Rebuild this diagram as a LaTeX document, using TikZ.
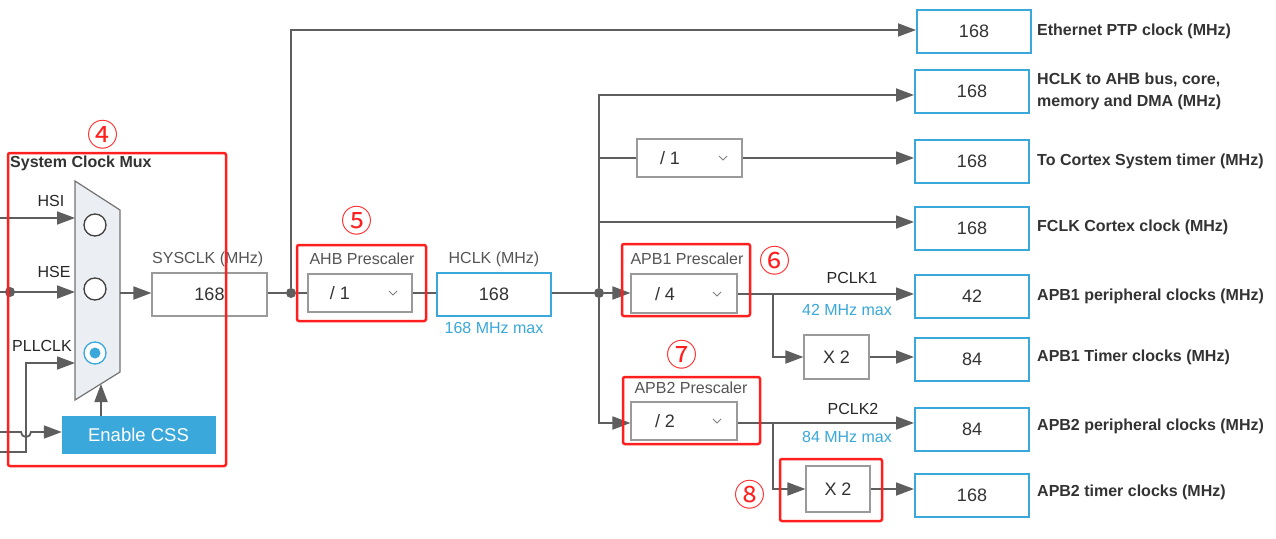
\documentclass[tikz,border=0pt]{standalone}
\usepackage{fontspec}
\setmainfont{Liberation Sans}
\newfontfamily\cjk{Noto Sans CJK SC}
\usetikzlibrary{arrows.meta}
\definecolor{ln}{HTML}{5E5E5E}
\definecolor{gb}{HTML}{9A9A9A}
\definecolor{bl}{HTML}{3AA8DA}
\definecolor{rd}{HTML}{FF1F1F}
\definecolor{tx}{HTML}{333333}
\definecolor{lt}{HTML}{555555}
\definecolor{muxf}{HTML}{EBEEF2}
\tikzset{
 wire/.style={draw=ln, line width=1.8pt},
 arr/.style={wire, -{Triangle[length=18pt,width=13pt]}},
 gbox/.style={draw=gb, line width=1.1pt, fill=white, inner sep=0pt, font=\fontsize{18}{21}\selectfont, text=tx},
 bbox/.style={draw=bl, line width=2pt, fill=white, inner sep=0pt, minimum width=114pt, minimum height=43pt, font=\fontsize{18}{21}\selectfont, text=tx},
 redbox/.style={draw=rd, line width=2.5pt, rounded corners=2pt},
 lbl/.style={font=\fontsize{16}{19}\selectfont, text=lt, inner sep=0pt},
 dlbl/.style={font=\fontsize{16}{19}\selectfont, text=black!85, inner sep=0pt},
 blbl/.style={font=\bfseries\fontsize{16}{19}\selectfont, text=tx, anchor=west, inner sep=0pt},
 bluetxt/.style={font=\fontsize{16}{19}\selectfont, text=bl, inner sep=0pt},
 valtxt/.style={font=\fontsize{18}{21}\selectfont, text=tx, inner sep=0pt},
 circnum/.style={font=\cjk\fontsize{31}{33}\selectfont, text=rd, inner sep=0pt},
 jdot/.style={circle, fill=ln, inner sep=0pt, minimum size=10pt},
 chev/.style={draw=gray, line width=0.9pt},
 radio/.style={circle, draw=black!75, line width=1.3pt, fill=white, minimum size=22pt, inner sep=0pt},
}
\begin{document}
\begin{tikzpicture}[x=1pt,y=-1pt]
\useasboundingbox (0,0) rectangle (1276,538);
\fill[white] (0,0) rectangle (1276,538);

% ---------- mux ----------
\draw[draw=black!55, line width=1.2pt, fill=muxf] (75,181) -- (120,210) -- (120,372) -- (75,400) -- cycle;
\coordinate (mhsi) at (75,218);
\coordinate (mhse) at (75,292);
\coordinate (mpll) at (75,363);
\coordinate (mout) at (120,293);
\coordinate (mbot) at (101,384);
\node[radio] (r1) at (95,225) {};
\node[radio] (r2) at (95,289) {};
\node[radio, draw=bl] (r3) at (95,353) {};
\node[circle, fill=bl, minimum size=11pt, inner sep=0pt] (r3d) at (95,353) {};

\node[blbl] (muxt) at (10,163) {System Clock Mux};
\node[dlbl] (lhsi) at (51,201) {HSI};
\node[dlbl] (lhse) at (54,272) {HSE};
\node[dlbl] (lpll) at (42,346) {PLLCLK};

\coordinate (inhsi) at (0,218);
\coordinate (inhse) at (0,292);
\coordinate (inpll) at (0,452);
\coordinate (incss) at (0,432);
\coordinate (pllc) at (26,452);
\node[jdot] (jl) at (10,292) {};

\node[draw=bl, fill=bl, minimum width=153pt, minimum height=37pt, inner sep=0pt, text=white, font=\fontsize{18.5}{21}\selectfont] (css) at (138.5,434.5) {Enable CSS};

\draw[arr] (inhsi) -- (mhsi);
\draw[arr] (inhse) -- (mhse);
\draw[arr] (inpll) -- (pllc) -- (pllc |- mpll) -- (mpll);
\draw[arr] (incss) -- (21,432) arc[start angle=180, end angle=0, radius=5] -- (css.west |- incss);
\draw[arr] (css.north -| mbot) -- (mbot);

% ---------- SYSCLK ----------
\node[gbox, minimum width=115pt, minimum height=43pt] (sys) at (209.5,294.5) {168};
\node[lbl, anchor=west] (syst) at (152,259) {SYSCLK (MHz)};
\draw[arr] (mout) -- (sys.west |- mout);

% ---------- AHB ----------
\node[gbox, minimum width=104pt, minimum height=38pt] (ahbdd) at (360,293) {};
\node[valtxt] (ahbv) at (340,293) {/ 1};
\draw[chev] (389,291) -- (393,295) -- (397,291);
\node[lbl] (ahbt) at (362,259) {AHB Prescaler};
\node[jdot] (j1) at (291,293) {};
\draw[wire] (sys.east |- j1) -- (j1) -- (ahbdd.west |- j1);

\node[bbox] (hclk) at (494,294.5) {168};
\node[lbl] (hclkt) at (494,259) {HCLK (MHz)};
\node[bluetxt] (hclkm) at (494,328) {168 MHz max};
\draw[wire] (ahbdd.east |- j1) -- (hclk.west |- j1);

% ---------- right column boxes ----------
\node[bbox] (b1) at (974,31.5) {168};
\node[bbox] (b2) at (972,91.5) {168};
\node[bbox] (b3) at (972,161.5) {168};
\node[bbox] (b4) at (972,228) {168};
\node[bbox] (b5) at (972,296) {42};
\node[bbox] (b6) at (972,359) {84};
\node[bbox] (b7) at (972,429) {84};
\node[bbox] (b8) at (972,495) {168};

\node[blbl] (t1) at (1037,31) {Ethernet PTP clock (MHz)};
\node[blbl] (t2a) at (1037,80) {HCLK to AHB bus, core,};
\node[blbl] (t2b) at (1037,102) {memory and DMA (MHz)};
\node[blbl] (t3) at (1037,161) {To Cortex System timer (MHz)};
\node[blbl] (t4) at (1037,227) {FCLK Cortex clock (MHz)};
\node[blbl] (t5) at (1037,296) {APB1 peripheral clocks (MHz)};
\node[blbl] (t6) at (1037,357) {APB1 Timer clocks (MHz)};
\node[blbl] (t7) at (1037,426) {APB2 peripheral clocks (MHz)};
\node[blbl] (t8) at (1037,492) {APB2 timer clocks (MHz)};

% Ethernet
\coordinate (e1) at (291,30);
\draw[arr] (j1) -- (e1) -- (b1.west |- e1);

% HCLK distribution
\node[jdot] (j2) at (599,293) {};
\coordinate (v2top) at (599,95);
\coordinate (v2bot) at (599,423);
\draw[wire] (hclk.east |- j2) -- (j2);
\draw[arr] (j2) -- (v2top) -- (b2.west |- v2top);

\node[gbox, minimum width=105pt, minimum height=38pt] (div1) at (689.5,158) {};
\node[valtxt] (div1v) at (670,158) {/ 1};
\draw[chev] (719,156) -- (723,160) -- (727,156);
\coordinate (c3) at (599,158);
\draw[wire] (c3) -- (div1.west |- c3);
\draw[arr] (div1.east |- c3) -- (b3.west |- c3);

\coordinate (c4) at (599,222);
\draw[arr] (c4) -- (b4.west |- c4);

% APB1
\node[gbox, minimum width=106pt, minimum height=39pt] (apb1) at (684,293.5) {};
\node[valtxt] (apb1v) at (665,294) {/ 4};
\draw[chev] (713,292) -- (717,296) -- (721,292);
\node[lbl] (apb1t) at (687,259) {APB1 Prescaler};
\draw[arr] (j2) -- (apb1.west |- j2);
\coordinate (s1) at (773,294);
\draw[arr] (apb1.east |- s1) -- (b5.west |- s1);
\node[dlbl] (pc1) at (852,278) {PCLK1};
\node[bluetxt] (pc1m) at (847,310) {42 MHz max};
\node[gbox, minimum width=65pt, minimum height=44pt] (x2a) at (836.5,357) {X 2};
\coordinate (s1b) at (773,357);
\draw[arr] (s1) -- (s1b) -- (x2a.west |- s1b);
\draw[arr] (x2a.east |- s1b) -- (b6.west |- s1b);

% APB2
\node[gbox, minimum width=106pt, minimum height=38pt] (apb2) at (684,421) {};
\node[valtxt] (apb2v) at (665,421) {/ 2};
\draw[chev] (713,419) -- (717,423) -- (721,419);
\node[lbl] (apb2t) at (691,388) {APB2 Prescaler};
\draw[arr] (j2) -- (v2bot) -- (apb2.west |- v2bot);
\coordinate (s2) at (773,423);
\draw[arr] (apb2.east |- s2) -- (b7.west |- s2);
\node[dlbl] (pc2) at (853,409) {PCLK2};
\node[bluetxt] (pc2m) at (847,437) {84 MHz max};
\node[gbox, minimum width=64pt, minimum height=46pt] (x2b) at (838,489) {X 2};
\coordinate (s2b) at (773,489);
\draw[arr] (s2) -- (s2b) -- (x2b.west |- s2b);
\draw[arr] (x2b.east |- s2b) -- (b8.west |- s2b);

% ---------- red highlight boxes ----------
\draw[redbox] (8,153) rectangle (226,466);
\draw[redbox] (297,245) rectangle (426,321);
\draw[redbox] (622,244) rectangle (750,316);
\draw[redbox] (623,377) rectangle (760,444);
\draw[redbox] (780,459) rectangle (882,521);

\node[circnum] (n4) at (103,135) {④};
\node[circnum] (n5) at (357,221) {⑤};
\node[circnum] (n6) at (775,261) {⑥};
\node[circnum] (n7) at (682,355) {⑦};
\node[circnum] (n8) at (750,495) {⑧};
\end{tikzpicture}
\end{document}
